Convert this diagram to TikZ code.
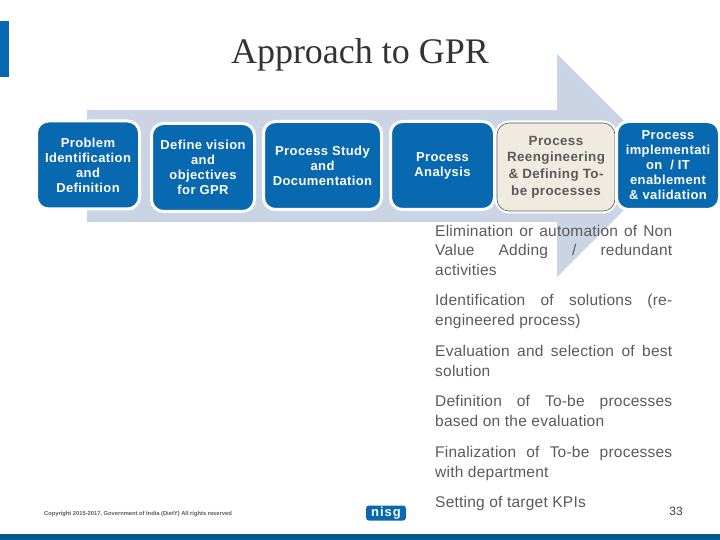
\documentclass[tikz,border=0pt]{standalone}
\usepackage{fontspec}
\setmainfont{Liberation Sans}
\newfontfamily\titlefont{Liberation Serif}
\usepackage{xcolor}
\usetikzlibrary{positioning}
\definecolor{nisgBlue}{HTML}{0868B0}
\definecolor{barBlue}{HTML}{005A8E}
\definecolor{arrowGrey}{HTML}{CBD4E5}
\definecolor{creamBox}{HTML}{EFEBE0}
\definecolor{bodyGrey}{HTML}{5A5A5A}

\begin{document}
\begin{tikzpicture}[x=1pt, y=-1pt,
    stepbox/.style={draw=white,line width=3pt,rounded corners=12pt,fill=nisgBlue,outer sep=0pt,
                text=white,font=\fontsize{13}{15}\selectfont\bfseries\addfontfeature{LetterSpace=3},
                minimum width=103pt,minimum height=88pt,align=center,inner sep=0pt},
    creambox/.style={stepbox,preaction={draw=white,line width=5pt},fill=creamBox,draw=bodyGrey,line width=0.6pt,
                text=bodyGrey,minimum width=118pt,font=\fontsize{13.4}{16.7}\selectfont\bfseries\addfontfeature{LetterSpace=3}},
    bullet/.style={text=bodyGrey,font=\fontsize{15.5}{19.5}\selectfont\addfontfeature{LetterSpace=1.5},text width=237pt,
                inner sep=0pt,align=justify}]
    \useasboundingbox (0,0) rectangle (720,540);
    \fill[arrowGrey] (87,110) -- (557,110) -- (557,54) -- (668.5,165.5) -- (557,277) -- (557,222) -- (87,222) -- cycle;
    \fill[nisgBlue] (0,21) rectangle (9,77);
    \fill[barBlue] (0,534) rectangle (720,540);

    \node[font=\titlefont\fontsize{36}{40}\selectfont,text=black!80] (title) at (360,55) {Approach to GPR};

    \node[stepbox] (problem) at (88,165) {Problem\\Identification\\and\\Definition};
    \node[stepbox,right=12pt of problem,yshift=-2.5pt] (vision) {Define vision\\and\\objectives\\for GPR};
    \node[stepbox,minimum width=118pt,right=9pt of vision,yshift=2pt] (study) {Process Study\\and\\Documentation};
    \node[stepbox,minimum width=104pt,right=9pt of study] (analysis) {Process\\Analysis};
    \node[creambox,right=2.5pt of analysis,yshift=-1.5pt] (reeng) {Process\\Reengineering\\\&\ Defining To-\\be processes};
    \node[stepbox,right=1.5pt of reeng,yshift=1.5pt] (impl) {Process\\implementati\\on\ \ / IT\\enablement\\\&\ validation};

    \node[bullet,anchor=north west] (elim) at (435,225) {Elimination or automation of Non\linebreak Value Adding / redundant\linebreak activities};
    \node[bullet,below=18.5pt of elim] (ident) {Identification of solutions (re-\linebreak engineered process)};
    \node[bullet,below=16.5pt of ident] (eval) {Evaluation and selection of best\linebreak solution};
    \node[bullet,below=19pt of eval] (defn) {Definition of To-be processes\linebreak based on the evaluation};
    \node[bullet,below=19.5pt of defn] (final) {Finalization of To-be processes\linebreak with department};
    \node[bullet,below=16pt of final] (kpi) {Setting of target KPIs};

    \node[font=\fontsize{5.75}{7}\selectfont\bfseries,text=bodyGrey] (copy) at (138,514) {Copyright 2015-2017, Government of India (DietY) All rights reserved};
    \node[font=\fontsize{12}{14}\selectfont,text=black!75] (page) at (676,511) {33};
    \node[fill=nisgBlue,rounded corners=3pt,text=white,font=\fontsize{13}{13}\selectfont\bfseries\addfontfeature{LetterSpace=8},minimum width=40pt,minimum height=15pt,inner sep=0pt] (logo) at (386,513) {nisg};
\end{tikzpicture}
\end{document}
